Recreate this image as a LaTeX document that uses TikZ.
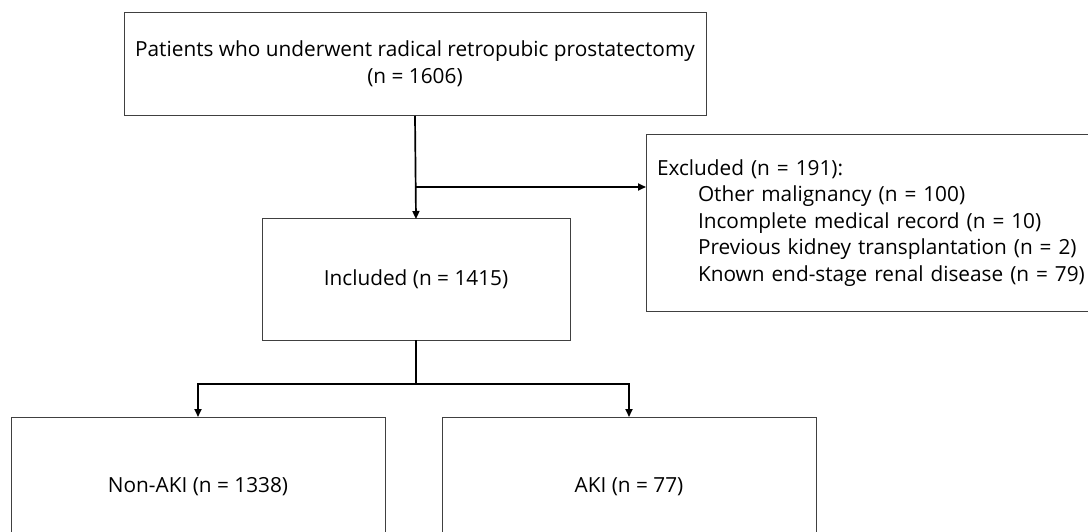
\documentclass[tikz,border=0pt]{standalone}
\usepackage{fontspec}
\setmainfont{Open Sans}
\usetikzlibrary{arrows.meta,positioning,calc}
\tikzset{
	box/.style={draw=black!75, line width=1pt, rectangle, inner sep=0pt, outer sep=0pt},
	flow/.style={->, line width=1.7pt}
}
\begin{document}
\begin{tikzpicture}[x=1pt, y=-1pt, >={Triangle[length=8pt,width=7pt]},
		font=\fontsize{20.8}{26.5}\selectfont]
	\useasboundingbox (0,0) rectangle (1088,532);
	\clip (0,0) rectangle (1088,532);
	\node[box, minimum width=582pt, minimum height=103pt] (pat) at (415, 64.5) {\begin{tabular}{c}
			Patients who underwent radical retropubic prostatectomy \\[1pt] (n = 1606)
		\end{tabular}};
	\node[box, anchor=north west, minimum height=176pt, text width=450pt, inner xsep=11pt, align=left] (excl) at (646, 135) {Excluded (n = 191):\\
		\hspace*{41pt}Other malignancy (n = 100)\\
		\hspace*{41pt}Incomplete medical record (n = 10)\\
		\hspace*{41pt}Previous kidney transplantation (n = 2)\\
		\hspace*{41pt}Known end-stage renal disease (n = 79)};
	\node[box, minimum width=308pt, minimum height=121pt] (incl) at (416, 279.5) {Included (n = 1415)};
	\node[box, minimum width=374pt, minimum height=140pt] (nonaki) at (198, 487) {Non-AKI (n = 1338)};
	\node[box, minimum width=374pt, minimum height=140pt] (aki) at (629, 487) {AKI (n = 77)};
	
	\coordinate (br1) at (pat.south |- 0,187);
	\coordinate (br2) at (incl.south |- 0,384);
	
	\draw[flow] (pat.south) -- (incl.north);
	\draw[flow] (br1) -- (br1 -| excl.west);
	\draw[line width=1.7pt] (incl.south) -- (br2);
	\draw[flow] (br2) -| (nonaki.north);
	\draw[flow] (br2) -| (aki.north);
\end{tikzpicture}
\end{document}
